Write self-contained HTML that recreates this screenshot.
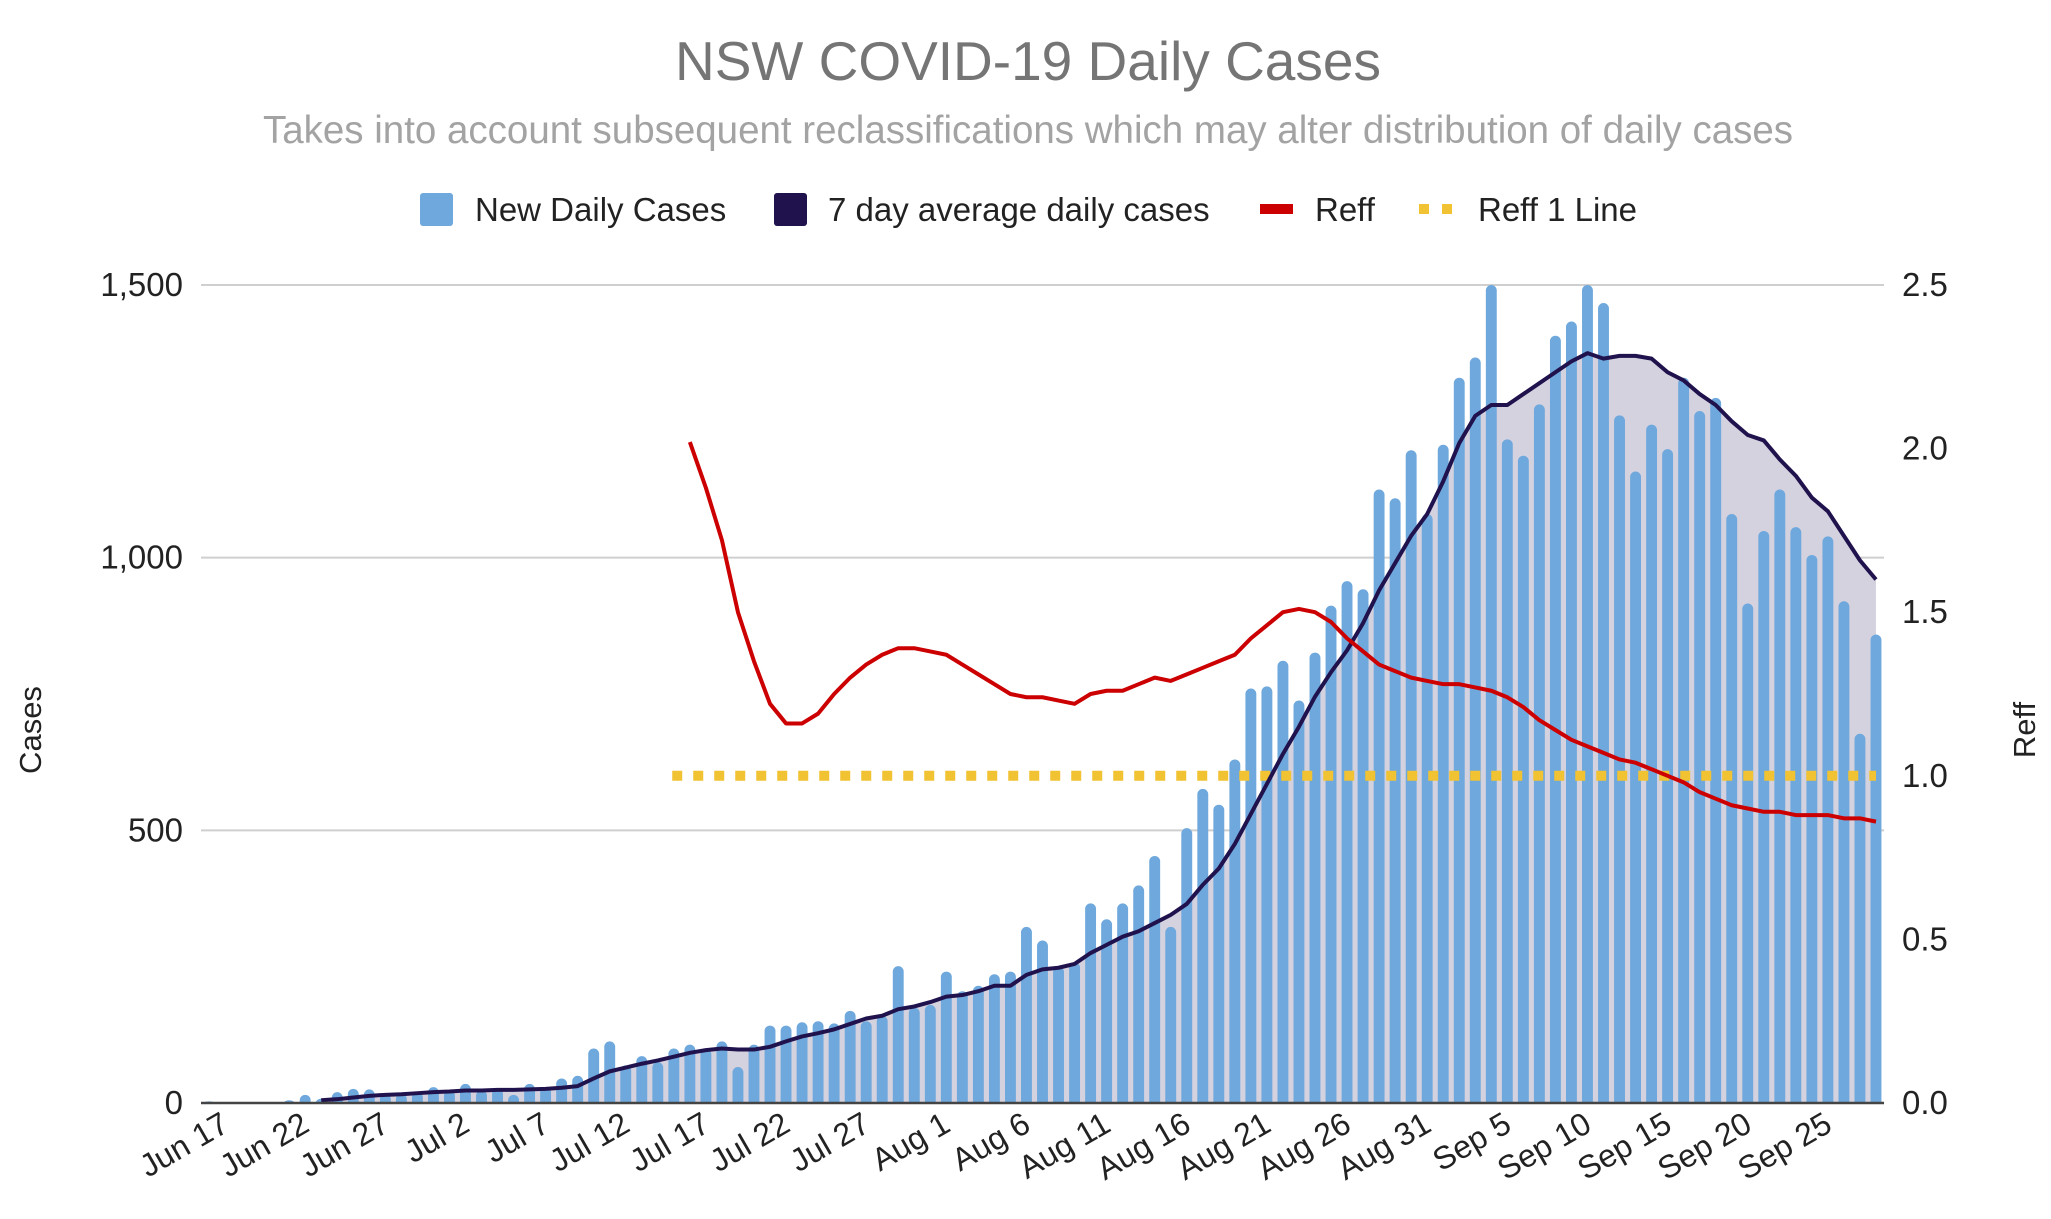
<!DOCTYPE html>
<html><head><meta charset="utf-8"><title>NSW COVID-19 Daily Cases</title>
<style>
html,body{margin:0;padding:0;background:#fff;}
svg{display:block;font-family:"Liberation Sans",Arial,sans-serif;}
</style></head>
<body>
<svg id="chart" width="2051" height="1219" viewBox="0 0 2051 1219" xmlns="http://www.w3.org/2000/svg">
<text x="1028" y="80" text-anchor="middle" font-size="55" fill="#757575">NSW COVID-19 Daily Cases</text>
<text x="1028" y="143" text-anchor="middle" font-size="38.5" fill="#a3a3a3">Takes into account subsequent reclassifications which may alter distribution of daily cases</text>
<g font-size="33" fill="#222">
  <g>
    <rect x="420" y="193" width="33" height="33" rx="3" fill="#6fa8dc"/>
    <text x="475" y="221">New Daily Cases</text>
  </g>
  <g>
    <rect x="774" y="193" width="33" height="33" rx="3" fill="#20124d"/>
    <text x="828" y="221">7 day average daily cases</text>
  </g>
  <g>
    <rect x="1260" y="204" width="33" height="10" fill="#cc0000"/>
    <text x="1315" y="221">Reff</text>
  </g>
  <g>
    <rect x="1419" y="204" width="10" height="10" fill="#f1c232"/>
    <rect x="1442" y="204" width="10" height="10" fill="#f1c232"/>
    <text x="1478" y="221">Reff 1 Line</text>
  </g>
</g>
<text transform="translate(41,730) rotate(-90)" text-anchor="middle" font-size="31" fill="#222">Cases</text>
<text transform="translate(2035,730) rotate(-90)" text-anchor="middle" font-size="31" fill="#222">Reff</text>
<g id="grid"></g>
<g id="area"></g>
<g id="bars"></g>
<g id="lines"></g>
<g id="axes"></g>
</svg>
<script>
const NS="http://www.w3.org/2000/svg";
// ---- data ----
const dailyCases=[3,0,0,0,0,5,15,8,20,26,25,17,17,20,29,23,35,23,26,15,35,29,45,50,100,113,69,86,75,100,107,99,113,66,107,142,142,148,150,146,169,150,160,251,175,180,241,205,215,236,241,323,298,250,258,366,337,366,399,453,323,504,576,547,630,760,764,811,738,826,912,957,942,1125,1109,1197,1080,1207,1330,1367,1542,1217,1187,1281,1407,1433,1599,1467,1261,1158,1244,1199,1330,1269,1293,1080,916,1049,1125,1056,1005,1039,920,677,859];
const avgStart=7;
const avgCases=[5,7,10,13,15,16,18,20,21,23,23,24,24,25,26,28,31,45,58,65,72,78,85,92,97,100,98,98,103,113,122,128,135,145,155,160,172,177,185,195,198,205,215,215,235,245,248,255,275,290,305,315,330,345,365,400,430,475,530,585,640,690,745,790,830,880,940,990,1040,1080,1140,1210,1260,1280,1280,1300,1320,1340,1360,1375,1365,1370,1370,1365,1340,1325,1300,1280,1250,1225,1215,1180,1150,1110,1085,1040,995,960];
const reffStart=30;
const reffValues=[2.02,1.88,1.72,1.50,1.35,1.22,1.16,1.16,1.19,1.25,1.30,1.34,1.37,1.39,1.39,1.38,1.37,1.34,1.31,1.28,1.25,1.24,1.24,1.23,1.22,1.25,1.26,1.26,1.28,1.30,1.29,1.31,1.33,1.35,1.37,1.42,1.46,1.50,1.51,1.50,1.47,1.42,1.38,1.34,1.32,1.30,1.29,1.28,1.28,1.27,1.26,1.24,1.21,1.17,1.14,1.11,1.09,1.07,1.05,1.04,1.02,1.00,0.98,0.95,0.93,0.91,0.90,0.89,0.89,0.88,0.88,0.88,0.87,0.87,0.86];
const reffOneLine=[1.0];
const reffOneRange=[29.4,104];
const leftTicks=[0,500,1000,1500];
const leftTickLabels=["0","500","1,000","1,500"];
const rightTicks=[0,0.5,1.0,1.5,2.0,2.5];
const rightTickLabels=["0.0","0.5","1.0","1.5","2.0","2.5"];
const xLabelIndices=[1,6,11,16,21,26,31,36,41,46,51,56,61,66,71,76,81,86,91,96,101];
const xLabels=["Jun 17","Jun 22","Jun 27","Jul 2","Jul 7","Jul 12","Jul 17","Jul 22","Jul 27","Aug 1","Aug 6","Aug 11","Aug 16","Aug 21","Aug 26","Aug 31","Sep 5","Sep 10","Sep 15","Sep 20","Sep 25"];
// ---- scales ----
const X0=201,X1=1884,Y0=1103,Y1=285;
const N=dailyCases.length;
const slot=(X1-X0)/N;
const xs=i=>X0+slot*(i+0.5);
const yL=v=>Y0-(Math.min(v,1500)/1500)*(Y0-Y1);
const yR=v=>Y0-(v/2.5)*(Y0-Y1);
function mk(tag,attrs,parent){const e=document.createElementNS(NS,tag);for(const k in attrs)e.setAttribute(k,attrs[k]);parent.appendChild(e);return e;}
const grid=document.getElementById('grid'),bars=document.getElementById('bars'),lines=document.getElementById('lines'),axes=document.getElementById('axes'),area=document.getElementById('area');
leftTicks.forEach((t,k)=>{
  if(t>0){const g=mk('line',{x1:X0,x2:X1,y1:yL(t),y2:yL(t),stroke:'#cfcfcf','stroke-width':2},grid);
  
  }
  const tl=mk('text',{x:183,y:yL(t)+11,'text-anchor':'end','font-size':33,fill:'#222'},axes);
  tl.textContent=leftTickLabels[k];
  
  
});
rightTicks.forEach((t,k)=>{
  const tl=mk('text',{x:1902,y:yR(t)+11,'text-anchor':'start','font-size':33,fill:'#222'},axes);
  tl.textContent=rightTickLabels[k];
  
  
});
let d='M'+xs(avgStart)+','+Y0;
avgCases.forEach((v,k)=>{d+=' L'+xs(avgStart+k)+','+yL(v);});
d+=' L'+xs(avgStart+avgCases.length-1)+','+Y0+' Z';
const ar=mk('path',{d:d,fill:'#d5d2e0'},area);


const bw=slot*0.68;
dailyCases.forEach((v,i)=>{
  if(v<=0)return;
  const top=yL(v),h=Y0-top,r=Math.min(bw/2,h);
  const x=xs(i)-bw/2;
  const p=mk('path',{d:`M${x},${Y0} L${x},${top+r} A${bw/2},${r} 0 0 1 ${x+bw},${top+r} L${x+bw},${Y0} Z`,fill:'#6fa8dc'},bars);
  
  
});
const bl=mk('line',{x1:X0,x2:X1,y1:Y0,y2:Y0,stroke:'#444','stroke-width':2.5},axes);


const r1=mk('line',{x1:X0+slot*reffOneRange[0],x2:xs(reffOneRange[1]),y1:yR(reffOneLine[0]),y2:yR(reffOneLine[0]),stroke:'#f1c232','stroke-width':10,'stroke-dasharray':'10 11'},lines);


const ap=mk('polyline',{points:avgCases.map((v,k)=>xs(avgStart+k)+','+yL(v)).join(' '),fill:'none',stroke:'#20124d','stroke-width':4,'stroke-linejoin':'round'},lines);


const rp=mk('polyline',{points:reffValues.map((v,k)=>xs(reffStart+k)+','+yR(v)).join(' '),fill:'none',stroke:'#cc0000','stroke-width':4,'stroke-linejoin':'round'},lines);


xLabelIndices.forEach((i,k)=>{
  const x=xs(i)+6,y=1130;
  const t=mk('text',{x:x,y:y,'text-anchor':'end','font-size':32,fill:'#222',transform:`rotate(-30 ${x} ${y})`},axes);
  t.textContent=xLabels[k];
  
  
});
</script>
</body></html>
